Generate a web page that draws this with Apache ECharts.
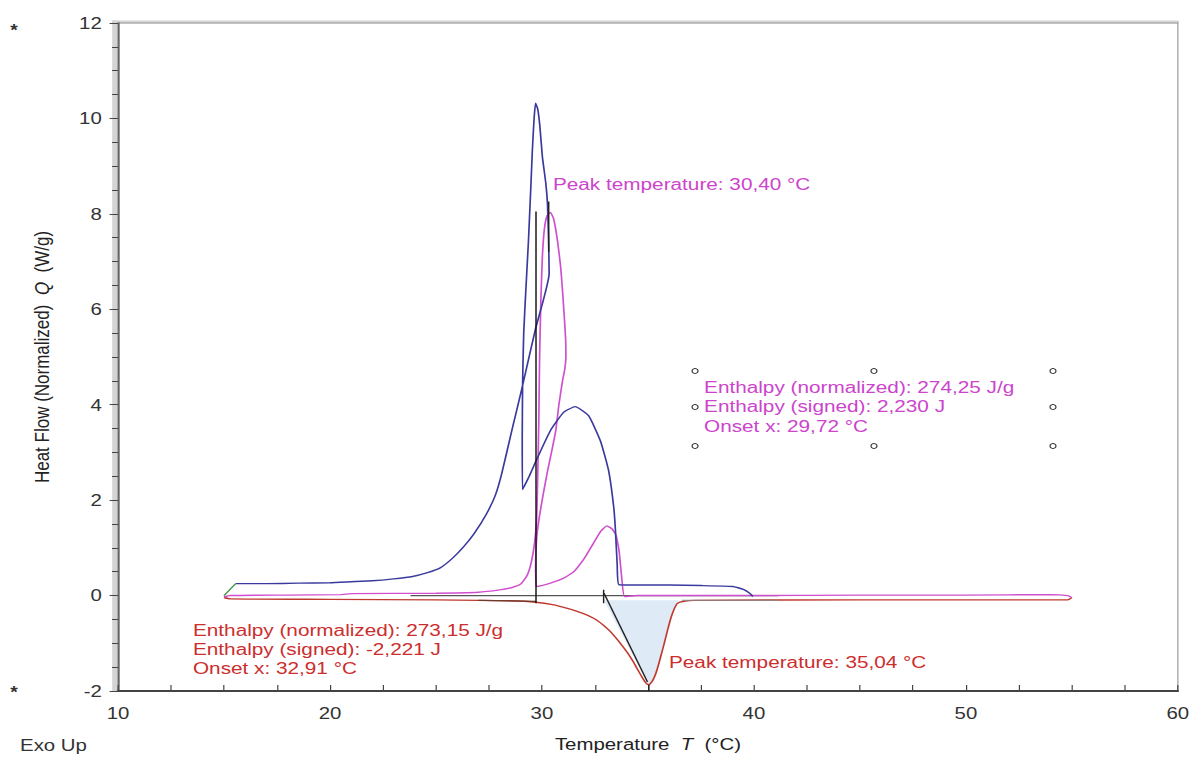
<!DOCTYPE html>
<html>
<head>
<meta charset="utf-8">
<script src="https://cdn.jsdelivr.net/npm/echarts@6/dist/echarts.min.js"></script>
<style>
html,body{margin:0;padding:0;overflow:hidden;background:#fff;}
#chart{width:994px;height:758px;transform:scaleX(1.2);transform-origin:0 0;}
</style>
</head>
<body>
<div id="chart"></div>
<script>
// ---- data (temperature °C, heat flow W/g) ----
var xRange = [10, 60];
var yRange = [-2, 12];

var greenStart = [[15.0,0.0],[15.55,0.25]];

var blueCurve = [
  [15.55,0.25],[17.0,0.25],[18.5,0.26],[20.0,0.27],[21.0,0.29],[22.0,0.31],[23.0,0.35],
  [23.9,0.40],[24.6,0.48],[25.2,0.58],[25.8,0.79],[26.3,1.02],[26.8,1.30],[27.37,1.70],
  [27.8,2.10],[28.1,2.55],[28.6,3.50],[29.05,4.33],[29.68,5.56],[30.34,6.75],
  [30.31,7.50],[30.26,8.22],[30.18,8.65],[30.02,9.20],[29.90,9.85],[29.80,10.2],[29.70,10.32],
  [29.63,10.0],[29.55,9.35],[29.47,8.50],[29.36,7.40],[29.24,6.40],[29.14,5.50],[29.09,4.50],
  [29.07,3.30],[29.08,2.22],[29.40,2.50],[29.76,2.86],[30.39,3.45],[31.02,3.84],[31.57,3.96],
  [32.2,3.77],[32.76,3.24],[33.15,2.61],[33.39,1.84],[33.47,1.35],[33.55,0.65],[33.63,0.23],
  [34.5,0.22],[36.0,0.22],[37.5,0.21],[39.0,0.19],[39.5,0.13],[39.8,0.05],[39.95,-0.02]
];

var pinkCurve = [
  [15.0,-0.03],[15.3,0.0],[18.0,0.01],[20.5,0.02],[21.0,0.04],[25.0,0.05],[27.0,0.07],
  [28.0,0.12],[28.6,0.17],[29.0,0.24],[29.3,0.42],[29.5,0.70],[29.65,1.10],[29.75,1.60],
  [29.80,2.50],[29.85,3.60],[29.89,5.00],[29.95,6.20],[30.02,7.10],[30.12,7.70],[30.25,7.97],
  [30.40,8.03],[30.55,7.90],[30.73,7.45],[30.88,6.90],[30.97,6.40],[31.06,5.80],[31.12,5.35],
  [31.13,5.00],[31.08,4.75],[30.97,4.50],[30.80,4.00],[30.65,3.45],[30.45,3.00],[30.26,2.60],
  [30.05,2.10],[29.87,1.63],[29.75,1.20],[29.70,0.60],[29.72,0.25],[29.75,0.19],[30.40,0.26],
  [31.0,0.36],[31.5,0.50],[32.0,0.78],[32.3,1.00],[32.78,1.35],[33.06,1.46],[33.30,1.40],
  [33.48,1.28],[33.64,0.93],[33.75,0.44],[33.90,-0.02],[34.5,0.0],[40.0,0.0],[45.0,0.01],
  [50.0,0.01],[54.0,0.02],[54.8,0.0],[55.0,-0.04]
];

var redCurve = [
  [15.0,-0.04],[15.3,-0.07],[20.0,-0.08],[25.0,-0.09],[27.0,-0.10],[28.5,-0.11],[29.71,-0.14],
  [30.5,-0.19],[31.2,-0.27],[31.9,-0.37],[32.46,-0.48],[32.9,-0.62],[33.2,-0.74],[33.4,-0.84],
  [33.7,-1.00],[34.04,-1.20],[34.3,-1.38],[34.5,-1.54],[34.75,-1.73],[34.92,-1.84],[35.04,-1.87],
  [35.2,-1.80],[35.35,-1.66],[35.5,-1.45],[35.65,-1.20],[35.77,-1.00],[35.93,-0.72],[36.09,-0.46],
  [36.25,-0.27],[36.4,-0.16],[36.7,-0.12],[37.2,-0.10],[45.0,-0.09],[54.8,-0.09],[55.0,-0.04]
];

// integrated peak area (baseline -0.1, tangent on the left, curve on the right)
var fillBaseline = -0.1;
var peakFill = [
  [32.93,-0.10],[34.98,-1.83],[35.04,-1.87],[35.2,-1.80],[35.35,-1.66],[35.5,-1.45],[35.65,-1.20],
  [35.77,-1.00],[35.93,-0.72],[36.09,-0.46],[36.25,-0.27],[36.4,-0.14],[36.5,-0.10]
];

var onsetTangent = [[32.93,0.05],[34.98,-1.81]];
var onsetPinkLine = [[29.72,8.05],[29.72,-0.16]];
var peakPinkLine = [[30.32,8.26],[30.32,7.20]];
var onsetRedLine = [[32.91,0.12],[32.91,-0.16]];
var peakRedLine = [[35.04,-1.87],[35.04,-2.0]];
var baseline0 = [[23.8,0.0],[41.15,0.0]];
var baselineA = [[27.0,-0.10],[29.72,-0.12]];
var baselineB = [[36.6,-0.10],[41.15,-0.10]];

var pinkTexts = ['Enthalpy (normalized): 274,25 J/g','Enthalpy (signed): 2,230 J','Onset x: 29,72 °C'];
var redTexts = ['Enthalpy (normalized): 273,15 J/g','Enthalpy (signed): -2,221 J','Onset x: 32,91 °C'];
var pinkPeakText = 'Peak temperature: 30,40 °C';
var redPeakText = 'Peak temperature: 35,04 °C';

var FONT = '"Liberation Sans", Arial, sans-serif';
var PINK = '#cf4fcf', PINKTXT = '#cc44cc', BLUE = '#3a3a9e', RED = '#c0392e', REDTXT = '#cc2e2e';

function lineSeries(data, color, width, z, smooth) {
  return {type:'line', data:data, showSymbol:false, symbol:'none', z:z||2, smooth:smooth||false,
    lineStyle:{color:color, width:width}, animation:false, silent:true};
}

var chart = echarts.init(document.getElementById('chart'), null, {renderer:'svg'});

var graphics = [];
// bevel frame (left and top)
graphics.push({type:'rect', z:-10, shape:{x:93.5, y:20.5, width:5, height:670.5}, style:{fill:'#d4d4d4'}});
graphics.push({type:'rect', z:-10, shape:{x:93.5, y:20.5, width:889, height:3}, style:{fill:'#d4d4d4'}});
function txt(t, x, y, color, size) {
  return {type:'text', z:50, style:{text:t, x:x, y:y, fill:color, font:(size||17.3)+'px '+FONT,
    align:'left', verticalAlign:'middle', textAlign:'left', textVerticalAlign:'middle'}};
}
graphics.push(txt(pinkPeakText, 460.8, 184, PINKTXT));
var boxY = [387, 406.5, 426];
pinkTexts.forEach(function(t,i){ graphics.push(txt(t, 586.7, boxY[i], PINKTXT)); });
var redY = [630, 649, 668];
redTexts.forEach(function(t,i){ graphics.push(txt(t, 160.8, redY[i], REDTXT)); });
graphics.push(txt(redPeakText, 557.5, 662, REDTXT));
graphics.push(txt('Exo Up', 16.7, 745, '#333', 17));
graphics.push({type:'text', z:50, style:{text:'*', x:11.7, y:31, fill:'#333', font:'bold 16px '+FONT, align:'center', verticalAlign:'middle', textAlign:'center', textVerticalAlign:'middle'}});
graphics.push({type:'text', z:50, style:{text:'*', x:11.7, y:693, fill:'#333', font:'bold 16px '+FONT, align:'center', verticalAlign:'middle', textAlign:'center', textVerticalAlign:'middle'}});
var hx = [579.2, 728.3, 877.5], hy = [371, 407, 446];
hy.forEach(function(yy, j){ hx.forEach(function(xx, i){
  if (j === 1 && i === 1) return;
  graphics.push({type:'circle', z:50, shape:{cx:xx, cy:yy, r:2.5}, style:{fill:'#fff', stroke:'#333', lineWidth:1}});
});});

var option = {
  backgroundColor:'#fff',
  animation:false,
  grid:{left:98.33, right:11.5, top:23, bottom:67, show:true, borderColor:'#999', borderWidth:1},
  xAxis:{type:'value', min:xRange[0], max:xRange[1], interval:10,
    name:'{a|Temperature  }{i|T}{a|  (°C)}', nameLocation:'middle', nameGap:45,
    nameTextStyle:{rich:{a:{fontSize:17, fontFamily:FONT, color:'#222'}, i:{fontSize:17, fontFamily:FONT, fontStyle:'italic', color:'#222'}}},
    axisLine:{show:true, onZero:false, lineStyle:{color:'#444', width:2}},
    axisTick:{show:true, inside:true, length:6, lineStyle:{color:'#444', width:1}},
    minorTick:{show:true, splitNumber:4, length:6, lineStyle:{color:'#444', width:1}},
    axisLabel:{margin:14, fontSize:17, fontFamily:FONT, color:'#333'},
    splitLine:{show:false}},
  yAxis:{type:'value', min:yRange[0], max:yRange[1], interval:2,
    name:'{a|Heat Flow (Normalized)  }{i|Q}{a|  (W/g)}', nameLocation:'middle', nameGap:55,
    nameTextStyle:{rich:{a:{fontSize:17, fontFamily:FONT, color:'#222'}, i:{fontSize:17, fontFamily:FONT, fontStyle:'italic', color:'#222'}}},
    axisLine:{show:true, onZero:false, lineStyle:{color:'#666', width:1.5}},
    axisTick:{show:true, length:7, lineStyle:{color:'#444', width:1}},
    minorTick:{show:true, splitNumber:4, length:5, lineStyle:{color:'#444', width:1}},
    axisLabel:{margin:13.5, fontSize:17, fontFamily:FONT, color:'#333'},
    splitLine:{show:false}},
  graphic:graphics,
  series:[
    {type:'line', data:peakFill, showSymbol:false, symbol:'none', z:1, smooth:0.2, lineStyle:{width:0, opacity:0},
      areaStyle:{color:'#deebf7', opacity:1, origin:fillBaseline}, animation:false, silent:true},
    lineSeries(baseline0, '#555', 1.3, 3),
    lineSeries(redCurve, RED, 1.4, 4, 0.2),
    lineSeries(baselineA, '#6b3b30', 1.3, 5),
    lineSeries(baselineB, '#8a8a8a', 1.0, 5),
    lineSeries(pinkCurve, PINK, 1.4, 6, 0.15),
    lineSeries(blueCurve, BLUE, 1.4, 7, 0.15),
    lineSeries(greenStart, '#4a9a4a', 1.4, 7),
    lineSeries(onsetPinkLine, '#111', 1.2, 9),
    lineSeries(peakPinkLine, '#222', 1.2, 9),
    lineSeries(onsetTangent, '#222', 1.2, 9),
    lineSeries(onsetRedLine, '#222', 1.2, 9),
    lineSeries(peakRedLine, '#222', 1.2, 9)
  ]
};
chart.setOption(option);
</script>
</body>
</html>
